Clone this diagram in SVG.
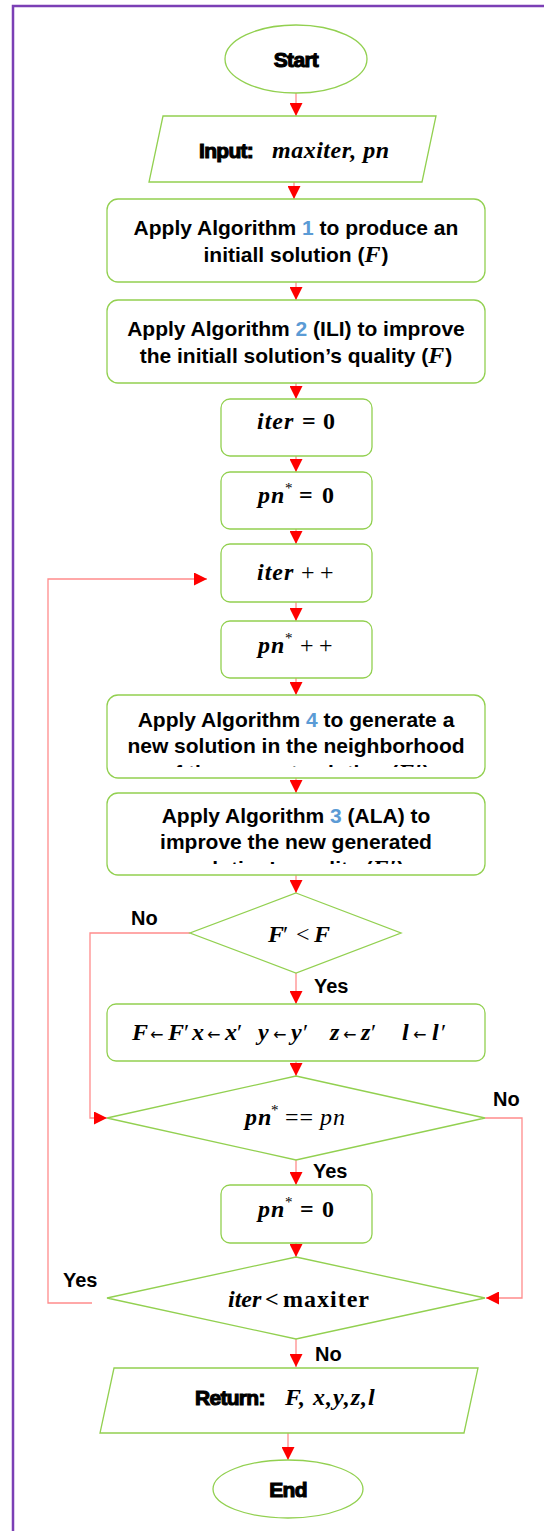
<svg xmlns="http://www.w3.org/2000/svg" width="544" height="1531" viewBox="0 0 544 1531">
<style>
.node{fill:#fff;stroke:#92D050;stroke-width:1.3}
.conn{fill:none;stroke:#FF8C8C;stroke-width:1.3}
.t{font-family:"Liberation Sans",Arial,sans-serif;font-weight:bold;font-size:21px;fill:#000;text-anchor:middle}
.h{font-family:"Liberation Sans",Arial,sans-serif;font-weight:bold;font-size:21px;fill:#000;stroke:#000;stroke-width:1.1;letter-spacing:-0.7px}
.lab{font-family:"Liberation Sans",Arial,sans-serif;font-weight:bold;font-size:20px;fill:#000}
.b{fill:#5B9BD5}
.m{font-family:"Liberation Serif","Times New Roman",serif;font-size:24px;fill:#000}
.bi{font-weight:bold;font-style:italic;letter-spacing:1px}
.bo{font-weight:bold}
.it{font-style:italic;letter-spacing:1px}
.sup{font-size:15px}
.pr{font-style:normal;font-weight:normal;letter-spacing:0}
.ar{font-family:"DejaVu Sans",sans-serif;font-size:16px;font-style:normal;font-weight:normal;letter-spacing:0}
</style>
<defs>
<marker id="ah" viewBox="0 0 13 13" refX="13" refY="6.5" markerWidth="13" markerHeight="13" markerUnits="userSpaceOnUse" orient="auto">
<path d="M0,0 L13,6.5 L0,13 z" fill="#FF0000"/>
</marker>
<clipPath id="c4"><rect x="107" y="695" width="378" height="72"/></clipPath>
<clipPath id="c3"><rect x="107" y="793" width="378" height="71"/></clipPath>
</defs>
<path d="M13,1531 V6 H544" fill="none" stroke="#7B3FB5" stroke-width="2.5"/>

<g id="connectors">
<path class="conn" d="M296,93 V116" marker-end="url(#ah)"/>
<path class="conn" d="M294,182 V199" marker-end="url(#ah)"/>
<path class="conn" d="M296,282 V300" marker-end="url(#ah)"/>
<path class="conn" d="M296,383 V399" marker-end="url(#ah)"/>
<path class="conn" d="M296,456 V472" marker-end="url(#ah)"/>
<path class="conn" d="M296,529 V544" marker-end="url(#ah)"/>
<path class="conn" d="M296,602 V621" marker-end="url(#ah)"/>
<path class="conn" d="M296,678 V695" marker-end="url(#ah)"/>
<path class="conn" d="M296,778 V793" marker-end="url(#ah)"/>
<path class="conn" d="M296,875 V893" marker-end="url(#ah)"/>
<path class="conn" d="M296,973 V1004" marker-end="url(#ah)"/>
<path class="conn" d="M296,1061 V1076" marker-end="url(#ah)"/>
<path class="conn" d="M296,1160 V1185" marker-end="url(#ah)"/>
<path class="conn" d="M296,1243 V1257" marker-end="url(#ah)"/>
<path class="conn" d="M296,1339 V1367" marker-end="url(#ah)"/>
<path class="conn" d="M288,1433 V1460" marker-end="url(#ah)"/>
<path class="conn" d="M190,933 H90 V1118 H107" marker-end="url(#ah)"/>
<path class="conn" d="M485,1118 H522 V1298 H486" marker-end="url(#ah)"/>
<path class="conn" d="M92,1303 H48 V579 H207" marker-end="url(#ah)"/>
<text class="lab" x="131" y="925">No</text>
<text class="lab" x="314" y="993">Yes</text>
<text class="lab" x="493" y="1106">No</text>
<text class="lab" x="313" y="1178">Yes</text>
<text class="lab" x="63" y="1287">Yes</text>
<text class="lab" x="315" y="1361">No</text>
</g>

<g id="start">
<ellipse class="node" cx="296" cy="59" rx="71" ry="34"/>
<text class="h" x="296" y="67" text-anchor="middle">Start</text>
</g>

<g id="input">
<polygon class="node" points="163,116 436,116 422,182 149,182"/>
<text class="h" x="199" y="158">Input:</text>
<text class="m bi" x="272" y="158" style="letter-spacing:0.5px">maxiter, pn</text>
</g>

<g id="alg1">
<rect class="node" x="107" y="199" width="378" height="83" rx="11"/>
<text class="t" x="296" y="235">Apply Algorithm <tspan class="b">1</tspan> to produce an</text>
<text class="t" x="296" y="262">initiall solution (<tspan class="m it" font-size="21">F</tspan>)</text>
</g>

<g id="alg2">
<rect class="node" x="107" y="300" width="378" height="83" rx="11"/>
<text class="t" x="296" y="336">Apply Algorithm <tspan class="b">2</tspan> (ILI) to improve</text>
<text class="t" x="296" y="363">the initiall solution’s quality (<tspan class="m it" font-size="21">F</tspan>)</text>
</g>

<g id="iter0">
<rect class="node" x="221" y="399" width="151" height="57" rx="9"/>
<text class="m" y="429"><tspan class="bi" x="257">iter</tspan><tspan class="bo" x="302">=</tspan><tspan class="bo" x="323">0</tspan></text>
</g>

<g id="pn0">
<rect class="node" x="221" y="472" width="151" height="57" rx="9"/>
<text class="m" y="503"><tspan class="bi" x="258">pn</tspan><tspan class="sup" x="285" dy="-10">*</tspan><tspan class="bo" x="299" dy="10">=</tspan><tspan class="bo" x="322">0</tspan></text>
</g>

<g id="iterinc">
<rect class="node" x="221" y="544" width="151" height="58" rx="9"/>
<text class="m" y="580"><tspan class="bi" x="257">iter</tspan><tspan x="301">+</tspan><tspan x="320">+</tspan></text>
</g>

<g id="pninc">
<rect class="node" x="221" y="621" width="151" height="57" rx="9"/>
<text class="m" y="653"><tspan class="bi" x="258">pn</tspan><tspan class="sup" x="285" dy="-10">*</tspan><tspan x="300" dy="10">+</tspan><tspan x="319">+</tspan></text>
</g>

<g id="alg4">
<rect class="node" x="107" y="695" width="378" height="83" rx="11"/>
<text class="t" x="296" y="727">Apply Algorithm <tspan class="b">4</tspan> to generate a</text>
<text class="t" x="296" y="753">new solution in the neighborhood</text>
<text class="t" x="296" y="780" clip-path="url(#c4)">of the current solution (<tspan class="m it" font-size="21">F′</tspan>)</text>
</g>

<g id="alg3">
<rect class="node" x="107" y="793" width="378" height="82" rx="11"/>
<text class="t" x="296" y="823">Apply Algorithm <tspan class="b">3</tspan> (ALA) to</text>
<text class="t" x="296" y="849">improve the new generated</text>
<text class="t" x="296" y="876" clip-path="url(#c3)">solution’s quality (<tspan class="m it" font-size="21">F′</tspan>)</text>
</g>

<g id="cond1">
<polygon class="node" points="296,893 401,933 296,973 190,933"/>
<text class="m" y="942"><tspan class="bi" x="268">F</tspan><tspan class="pr" x="283">′</tspan><tspan x="296">&lt;</tspan><tspan class="bi" x="314">F</tspan></text>
</g>

<g id="update">
<rect class="node" x="107" y="1004" width="378" height="57" rx="9"/>
<text class="m" y="1040"><tspan class="bi" x="132">F</tspan><tspan class="ar" x="150">←</tspan><tspan class="bi" x="168">F</tspan><tspan class="pr" x="184">′</tspan><tspan class="bi" x="192">x</tspan><tspan class="ar" x="207">←</tspan><tspan class="bi" x="225">x</tspan><tspan class="pr" x="237">′</tspan><tspan class="bi" x="258">y</tspan><tspan class="ar" x="273">←</tspan><tspan class="bi" x="291">y</tspan><tspan class="pr" x="303">′</tspan><tspan class="bi" x="330">z</tspan><tspan class="ar" x="343">←</tspan><tspan class="bi" x="361">z</tspan><tspan class="pr" x="371">′</tspan><tspan class="bi" x="402">l</tspan><tspan class="ar" x="413">←</tspan><tspan class="bi" x="432">l</tspan><tspan class="pr" x="441">′</tspan></text>
</g>

<g id="cond2">
<polygon class="node" points="296,1076 485,1118 296,1160 107,1118"/>
<text class="m" y="1125"><tspan class="bi" x="245">pn</tspan><tspan class="sup" x="271" dy="-10">*</tspan><tspan x="285" dy="10" style="letter-spacing:1px">==</tspan><tspan class="it" x="320">pn</tspan></text>
</g>

<g id="pn0b">
<rect class="node" x="221" y="1185" width="151" height="58" rx="9"/>
<text class="m" y="1217"><tspan class="bi" x="258">pn</tspan><tspan class="sup" x="285" dy="-10">*</tspan><tspan class="bo" x="300" dy="10">=</tspan><tspan class="bo" x="322">0</tspan></text>
</g>

<g id="cond3">
<polygon class="node" points="296,1257 485,1298 296,1339 107,1298"/>
<text class="m" y="1307" font-size="23"><tspan class="bi" x="228" style="letter-spacing:0px">iter</tspan><tspan class="bo" x="265">&lt;</tspan><tspan class="bo" x="283" style="letter-spacing:1px">maxiter</tspan></text>
</g>

<g id="return">
<polygon class="node" points="114,1368 478,1368 464,1433 100,1433"/>
<text class="h" x="195" y="1405">Return:</text>
<text class="m bi" x="285" y="1405" style="letter-spacing:1px">F, x,y,z,l</text>
</g>

<g id="end">
<ellipse class="node" cx="288" cy="1489" rx="75" ry="29"/>
<text class="h" x="288" y="1497" text-anchor="middle">End</text>
</g>
</svg>
